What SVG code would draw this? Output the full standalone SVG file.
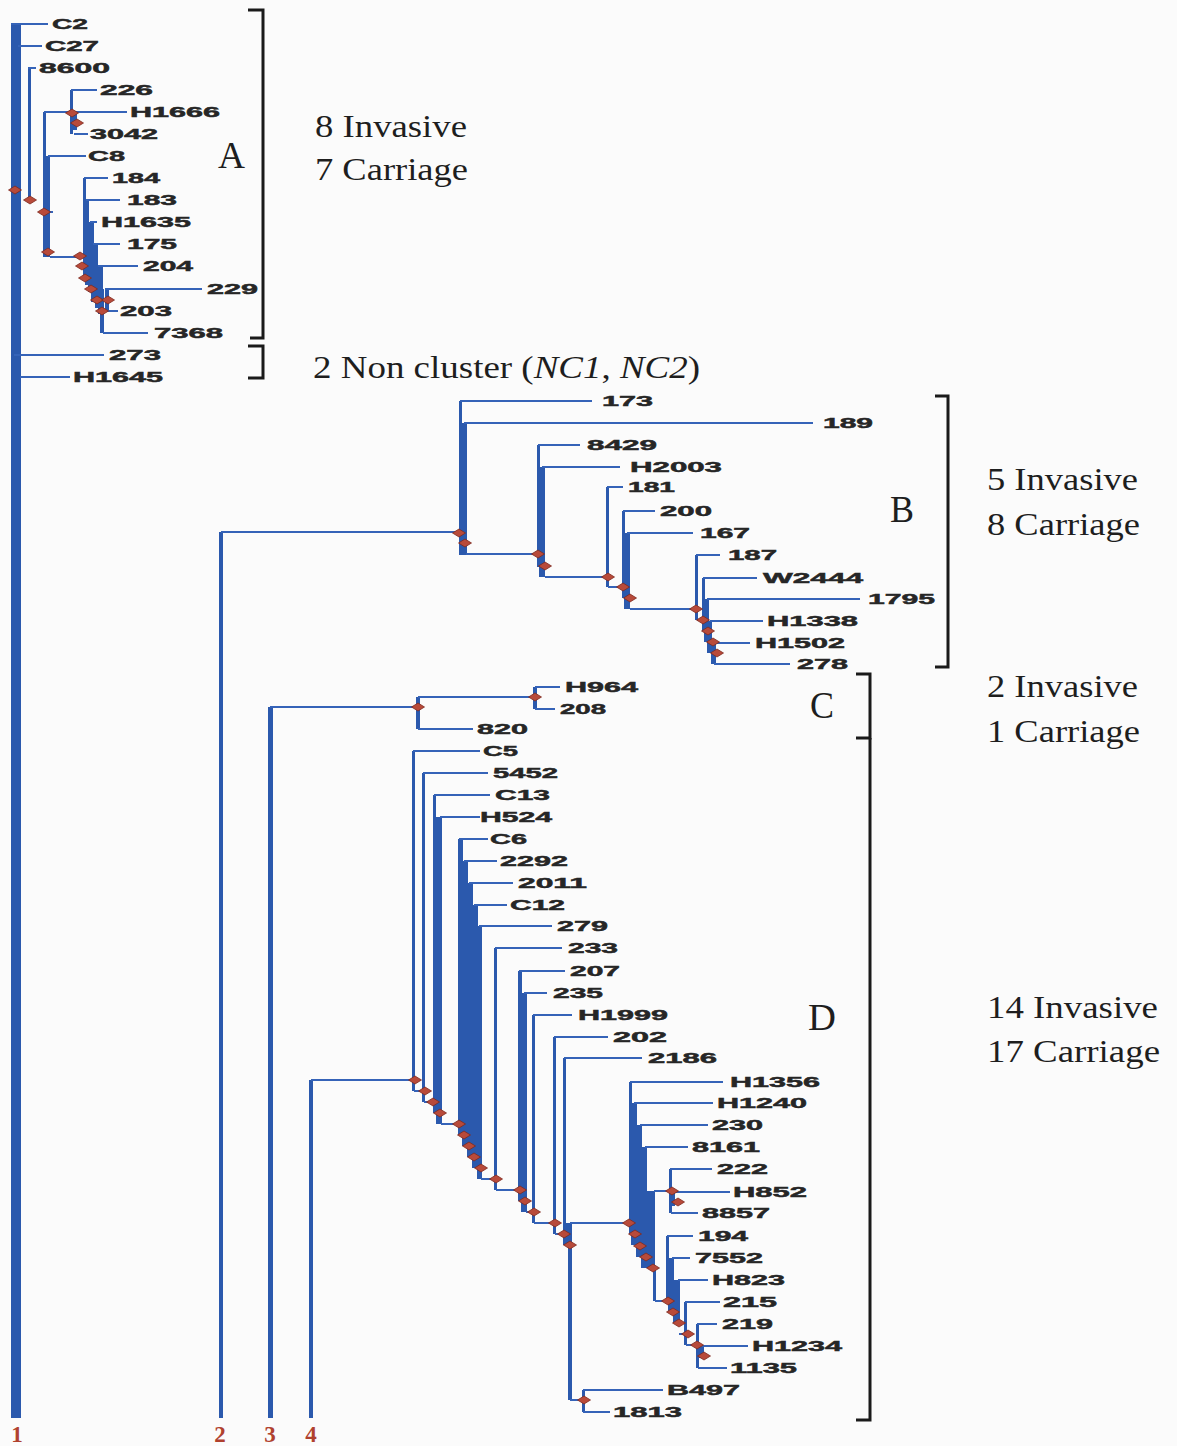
<svg xmlns="http://www.w3.org/2000/svg" xmlns:xlink="http://www.w3.org/1999/xlink" width="1177" height="1446" viewBox="0 0 1177 1446">
<style>
  .br{stroke:#3563b8;stroke-width:2;fill:none}
  .bar{fill:#2b59ad}
  .nd{fill:#b84a3a;stroke:#7d2a1e;stroke-width:0.8}
  .lb{font-family:"Liberation Sans",Arial,sans-serif;font-weight:bold;font-size:14px;fill:#262626;stroke:#262626;stroke-width:0.45}
  .bk{stroke:#1a1a1a;stroke-width:3;fill:none}
  .ct{font-family:"Liberation Serif","Times New Roman",serif;font-size:31px;fill:#1e1e1e}
  .cl{font-family:"Liberation Serif","Times New Roman",serif;font-size:37px;fill:#1e1e1e}
  .rn{font-family:"Liberation Serif","Times New Roman",serif;font-weight:bold;font-size:23px;fill:#b0412e;text-anchor:middle}
</style>
<defs>
  <path id="dm" d="M-6.5,0 L0,-4 L6.5,0 L0,4 Z"/>
</defs>
<rect width="1177" height="1446" fill="#fbfbfb"/>

<!-- branches: vertical bars and horizontal edges -->
<g id="connectors">
  <!-- tree 1 (cluster A and non-cluster) -->
  <rect class="bar" x="11" y="24" width="10" height="1394"/>
  <rect class="bar" x="28" y="68" width="3" height="134"/>
  <rect class="bar" x="43" y="112" width="3" height="145"/>
  <rect class="bar" x="45" y="156" width="5" height="101"/>
  <rect class="bar" x="70" y="90" width="3" height="44"/>
  <rect class="bar" x="73" y="112" width="4" height="18"/>
  <rect class="bar" x="83" y="178" width="3" height="100"/>
  <rect class="bar" x="85" y="200" width="4" height="85"/>
  <rect class="bar" x="88" y="222" width="6" height="70"/>
  <rect class="bar" x="91" y="244" width="7" height="58"/>
  <rect class="bar" x="95" y="266" width="8" height="42"/>
  <rect class="bar" x="98" y="289" width="6" height="25"/>
  <rect class="bar" x="100" y="305" width="4" height="28"/>
  <rect class="bar" x="105" y="289" width="4" height="22"/>
  <path class="br" d="M11,24H48 M18,46H42 M28,68H36 M44,112H127 M48,156H86 M71,90H97 M74,134H88 M50,257H84 M43,212H53
    M84,178H108 M86,200H120 M90,222H97 M93,244H120 M98,266H138 M105,289H202 M106,311H118 M103,333H148
    M14,355H104 M20,377H70"/>

  <!-- tree 2 (cluster B) -->
  <rect class="bar" x="219" y="532" width="4" height="886"/>
  <rect class="bar" x="459" y="401" width="3" height="154"/>
  <rect class="bar" x="461" y="423" width="6" height="132"/>
  <rect class="bar" x="537" y="445" width="3" height="122"/>
  <rect class="bar" x="539" y="467" width="6" height="110"/>
  <rect class="bar" x="606" y="487" width="3" height="100"/>
  <rect class="bar" x="622" y="511" width="3" height="87"/>
  <rect class="bar" x="624" y="533" width="6" height="76"/>
  <rect class="bar" x="695" y="555" width="3" height="65"/>
  <rect class="bar" x="702" y="578" width="3" height="53"/>
  <rect class="bar" x="704" y="599" width="5" height="43"/>
  <rect class="bar" x="707" y="621" width="5" height="32"/>
  <rect class="bar" x="711" y="643" width="5" height="21"/>
  <path class="br" d="M221,532H460 M460,401H592 M464,423H813 M466,554H538 M538,445H580 M542,467H620
    M545,577H607 M607,487H623 M608,587H622 M623,511H655 M627,533H693 M630,609H696 M696,555H720
    M697,620H703 M703,578H757 M707,599H860 M710,621H763 M712,643H750 M714,664H790"/>

  <!-- tree 3 (cluster C) -->
  <rect class="bar" x="268" y="707" width="5" height="711"/>
  <rect class="bar" x="416" y="697" width="4" height="32"/>
  <rect class="bar" x="533" y="687" width="4" height="22"/>
  <path class="br" d="M270,707H418 M418,697H535 M535,687H560 M535,709H555 M418,729H473"/>

  <!-- tree 4 (cluster D) -->
  <rect class="bar" x="309" y="1080" width="4" height="338"/>
  <rect class="bar" x="412" y="751" width="3" height="340"/>
  <rect class="bar" x="422" y="773" width="3" height="329"/>
  <rect class="bar" x="433" y="795" width="3" height="318"/>
  <rect class="bar" x="436" y="817" width="6" height="307"/>
  <rect class="bar" x="458" y="839" width="5" height="296"/>
  <rect class="bar" x="462" y="861" width="6" height="285"/>
  <rect class="bar" x="467" y="883" width="6" height="274"/>
  <rect class="bar" x="472" y="905" width="6" height="263"/>
  <rect class="bar" x="477" y="926" width="5" height="253"/>
  <rect class="bar" x="494" y="948" width="3" height="242"/>
  <rect class="bar" x="518" y="971" width="4" height="230"/>
  <rect class="bar" x="521" y="993" width="6" height="219"/>
  <rect class="bar" x="532" y="1015" width="3" height="208"/>
  <rect class="bar" x="553" y="1037" width="3" height="197"/>
  <rect class="bar" x="563" y="1058" width="3" height="187"/>
  <rect class="bar" x="565" y="1223" width="7" height="22"/>
  <rect class="bar" x="568" y="1245" width="4" height="155"/>
  <rect class="bar" x="582" y="1390" width="3" height="22"/>
  <rect class="bar" x="629" y="1082" width="3" height="152"/>
  <rect class="bar" x="631" y="1103" width="6" height="142"/>
  <rect class="bar" x="636" y="1125" width="6" height="132"/>
  <rect class="bar" x="641" y="1147" width="6" height="121"/>
  <rect class="bar" x="646" y="1191" width="9" height="77"/>
  <rect class="bar" x="653" y="1268" width="3" height="33"/>
  <rect class="bar" x="669" y="1169" width="3" height="44"/>
  <rect class="bar" x="671" y="1192" width="4" height="14"/>
  <rect class="bar" x="666" y="1236" width="3" height="65"/>
  <rect class="bar" x="668" y="1258" width="6" height="54"/>
  <rect class="bar" x="673" y="1280" width="7" height="43"/>
  <rect class="bar" x="684" y="1302" width="3" height="43"/>
  <rect class="bar" x="696" y="1324" width="3" height="44"/>
  <rect class="bar" x="698" y="1346" width="6" height="12"/>
  <path class="br" d="M311,1080H413 M413,751H480 M414,1091H423 M423,773H488 M424,1102H434 M434,795H490 M440,817H480
    M441,1124H458 M459,839H488 M464,861H497 M469,883H513 M474,905H507 M479,926H552 M481,1179H495 M495,948H562
    M496,1190H519 M519,971H565 M524,993H547 M526,1212H533 M533,1015H572 M534,1223H554 M554,1037H608
    M555,1234H564 M564,1058H642 M570,1223H630 M570,1400H583 M583,1390H663 M583,1412H610
    M630,1082H723 M634,1103H713 M640,1125H708 M645,1147H688 M654,1191H670 M670,1169H712 M673,1192H730 M671,1213H698
    M655,1301H667 M667,1236H693 M672,1258H690 M678,1280H708 M679,1334H686 M685,1302H720 M686,1345H697
    M697,1324H717 M700,1346H748 M698,1368H727"/>
</g>

<!-- internal nodes -->
<g id="internal-nodes">
  <use xlink:href="#dm" href="#dm" class="nd" x="15" y="190"/>
  <use xlink:href="#dm" href="#dm" class="nd" x="30" y="200"/>
  <use xlink:href="#dm" href="#dm" class="nd" x="44" y="212"/>
  <use xlink:href="#dm" href="#dm" class="nd" x="48" y="252"/>
  <use xlink:href="#dm" href="#dm" class="nd" x="72" y="113"/>
  <use xlink:href="#dm" href="#dm" class="nd" x="77" y="123"/>
  <use xlink:href="#dm" href="#dm" class="nd" x="80" y="256"/>
  <use xlink:href="#dm" href="#dm" class="nd" x="82" y="266"/>
  <use xlink:href="#dm" href="#dm" class="nd" x="85" y="278"/>
  <use xlink:href="#dm" href="#dm" class="nd" x="91" y="289"/>
  <use xlink:href="#dm" href="#dm" class="nd" x="97" y="300"/>
  <use xlink:href="#dm" href="#dm" class="nd" x="108" y="300"/>
  <use xlink:href="#dm" href="#dm" class="nd" x="102" y="311"/>

  <use xlink:href="#dm" href="#dm" class="nd" x="459" y="533"/>
  <use xlink:href="#dm" href="#dm" class="nd" x="465" y="543"/>
  <use xlink:href="#dm" href="#dm" class="nd" x="538" y="554"/>
  <use xlink:href="#dm" href="#dm" class="nd" x="545" y="566"/>
  <use xlink:href="#dm" href="#dm" class="nd" x="608" y="577"/>
  <use xlink:href="#dm" href="#dm" class="nd" x="623" y="587"/>
  <use xlink:href="#dm" href="#dm" class="nd" x="630" y="598"/>
  <use xlink:href="#dm" href="#dm" class="nd" x="696" y="609"/>
  <use xlink:href="#dm" href="#dm" class="nd" x="703" y="620"/>
  <use xlink:href="#dm" href="#dm" class="nd" x="708" y="631"/>
  <use xlink:href="#dm" href="#dm" class="nd" x="713" y="642"/>
  <use xlink:href="#dm" href="#dm" class="nd" x="717" y="653"/>

  <use xlink:href="#dm" href="#dm" class="nd" x="418" y="707"/>
  <use xlink:href="#dm" href="#dm" class="nd" x="535" y="697"/>

  <use xlink:href="#dm" href="#dm" class="nd" x="415" y="1080"/>
  <use xlink:href="#dm" href="#dm" class="nd" x="425" y="1091"/>
  <use xlink:href="#dm" href="#dm" class="nd" x="433" y="1102"/>
  <use xlink:href="#dm" href="#dm" class="nd" x="440" y="1113"/>
  <use xlink:href="#dm" href="#dm" class="nd" x="459" y="1124"/>
  <use xlink:href="#dm" href="#dm" class="nd" x="464" y="1135"/>
  <use xlink:href="#dm" href="#dm" class="nd" x="469" y="1146"/>
  <use xlink:href="#dm" href="#dm" class="nd" x="474" y="1157"/>
  <use xlink:href="#dm" href="#dm" class="nd" x="481" y="1168"/>
  <use xlink:href="#dm" href="#dm" class="nd" x="496" y="1179"/>
  <use xlink:href="#dm" href="#dm" class="nd" x="520" y="1190"/>
  <use xlink:href="#dm" href="#dm" class="nd" x="525" y="1201"/>
  <use xlink:href="#dm" href="#dm" class="nd" x="534" y="1212"/>
  <use xlink:href="#dm" href="#dm" class="nd" x="555" y="1223"/>
  <use xlink:href="#dm" href="#dm" class="nd" x="564" y="1234"/>
  <use xlink:href="#dm" href="#dm" class="nd" x="570" y="1245"/>
  <use xlink:href="#dm" href="#dm" class="nd" x="584" y="1400"/>
  <use xlink:href="#dm" href="#dm" class="nd" x="629" y="1223"/>
  <use xlink:href="#dm" href="#dm" class="nd" x="635" y="1234"/>
  <use xlink:href="#dm" href="#dm" class="nd" x="640" y="1246"/>
  <use xlink:href="#dm" href="#dm" class="nd" x="646" y="1257"/>
  <use xlink:href="#dm" href="#dm" class="nd" x="653" y="1268"/>
  <use xlink:href="#dm" href="#dm" class="nd" x="672" y="1191"/>
  <use xlink:href="#dm" href="#dm" class="nd" x="678" y="1202"/>
  <use xlink:href="#dm" href="#dm" class="nd" x="668" y="1301"/>
  <use xlink:href="#dm" href="#dm" class="nd" x="673" y="1312"/>
  <use xlink:href="#dm" href="#dm" class="nd" x="679" y="1323"/>
  <use xlink:href="#dm" href="#dm" class="nd" x="688" y="1334"/>
  <use xlink:href="#dm" href="#dm" class="nd" x="697" y="1345"/>
  <use xlink:href="#dm" href="#dm" class="nd" x="704" y="1356"/>
</g>

<!-- isolates (leaves) -->
<g id="leaves" class="lb">
  <g id="n-C2"><text x="52" y="29" textLength="36" lengthAdjust="spacingAndGlyphs">C2</text></g>
  <g id="n-C27"><text x="45" y="51" textLength="54" lengthAdjust="spacingAndGlyphs">C27</text></g>
  <g id="n-8600"><text x="39" y="73" textLength="71" lengthAdjust="spacingAndGlyphs">8600</text></g>
  <g id="n-226"><text x="100" y="95" textLength="53" lengthAdjust="spacingAndGlyphs">226</text></g>
  <g id="n-H1666"><text x="130" y="117" textLength="90" lengthAdjust="spacingAndGlyphs">H1666</text></g>
  <g id="n-3042"><text x="90" y="139" textLength="68" lengthAdjust="spacingAndGlyphs">3042</text></g>
  <g id="n-C8"><text x="88" y="161" textLength="37" lengthAdjust="spacingAndGlyphs">C8</text></g>
  <g id="n-184"><text x="112" y="183" textLength="48" lengthAdjust="spacingAndGlyphs">184</text></g>
  <g id="n-183"><text x="127" y="205" textLength="50" lengthAdjust="spacingAndGlyphs">183</text></g>
  <g id="n-H1635"><text x="101" y="227" textLength="90" lengthAdjust="spacingAndGlyphs">H1635</text></g>
  <g id="n-175"><text x="127" y="249" textLength="50" lengthAdjust="spacingAndGlyphs">175</text></g>
  <g id="n-204"><text x="143" y="271" textLength="50" lengthAdjust="spacingAndGlyphs">204</text></g>
  <g id="n-229"><text x="207" y="294" textLength="51" lengthAdjust="spacingAndGlyphs">229</text></g>
  <g id="n-203"><text x="120" y="316" textLength="52" lengthAdjust="spacingAndGlyphs">203</text></g>
  <g id="n-7368"><text x="154" y="338" textLength="69" lengthAdjust="spacingAndGlyphs">7368</text></g>
  <g id="n-273"><text x="109" y="360" textLength="52" lengthAdjust="spacingAndGlyphs">273</text></g>
  <g id="n-H1645"><text x="73" y="382" textLength="90" lengthAdjust="spacingAndGlyphs">H1645</text></g>

  <g id="n-173"><text x="602" y="406" textLength="51" lengthAdjust="spacingAndGlyphs">173</text></g>
  <g id="n-189"><text x="823" y="428" textLength="50" lengthAdjust="spacingAndGlyphs">189</text></g>
  <g id="n-8429"><text x="587" y="450" textLength="70" lengthAdjust="spacingAndGlyphs">8429</text></g>
  <g id="n-H2003"><text x="630" y="472" textLength="92" lengthAdjust="spacingAndGlyphs">H2003</text></g>
  <g id="n-181"><text x="628" y="492" textLength="47" lengthAdjust="spacingAndGlyphs">181</text></g>
  <g id="n-200"><text x="660" y="516" textLength="52" lengthAdjust="spacingAndGlyphs">200</text></g>
  <g id="n-167"><text x="700" y="538" textLength="50" lengthAdjust="spacingAndGlyphs">167</text></g>
  <g id="n-187"><text x="728" y="560" textLength="49" lengthAdjust="spacingAndGlyphs">187</text></g>
  <g id="n-W2444"><text x="763" y="583" textLength="100" lengthAdjust="spacingAndGlyphs">W2444</text></g>
  <g id="n-1795"><text x="868" y="604" textLength="67" lengthAdjust="spacingAndGlyphs">1795</text></g>
  <g id="n-H1338"><text x="767" y="626" textLength="91" lengthAdjust="spacingAndGlyphs">H1338</text></g>
  <g id="n-H1502"><text x="755" y="648" textLength="90" lengthAdjust="spacingAndGlyphs">H1502</text></g>
  <g id="n-278"><text x="797" y="669" textLength="51" lengthAdjust="spacingAndGlyphs">278</text></g>

  <g id="n-H964"><text x="565" y="692" textLength="73" lengthAdjust="spacingAndGlyphs">H964</text></g>
  <g id="n-208"><text x="560" y="714" textLength="46" lengthAdjust="spacingAndGlyphs">208</text></g>
  <g id="n-820"><text x="477" y="734" textLength="51" lengthAdjust="spacingAndGlyphs">820</text></g>

  <g id="n-C5"><text x="483" y="756" textLength="35" lengthAdjust="spacingAndGlyphs">C5</text></g>
  <g id="n-5452"><text x="493" y="778" textLength="65" lengthAdjust="spacingAndGlyphs">5452</text></g>
  <g id="n-C13"><text x="495" y="800" textLength="55" lengthAdjust="spacingAndGlyphs">C13</text></g>
  <g id="n-H524"><text x="480" y="822" textLength="72" lengthAdjust="spacingAndGlyphs">H524</text></g>
  <g id="n-C6"><text x="490" y="844" textLength="37" lengthAdjust="spacingAndGlyphs">C6</text></g>
  <g id="n-2292"><text x="500" y="866" textLength="68" lengthAdjust="spacingAndGlyphs">2292</text></g>
  <g id="n-2011"><text x="518" y="888" textLength="69" lengthAdjust="spacingAndGlyphs">2011</text></g>
  <g id="n-C12"><text x="510" y="910" textLength="55" lengthAdjust="spacingAndGlyphs">C12</text></g>
  <g id="n-279"><text x="557" y="931" textLength="51" lengthAdjust="spacingAndGlyphs">279</text></g>
  <g id="n-233"><text x="568" y="953" textLength="50" lengthAdjust="spacingAndGlyphs">233</text></g>
  <g id="n-207"><text x="570" y="976" textLength="50" lengthAdjust="spacingAndGlyphs">207</text></g>
  <g id="n-235"><text x="553" y="998" textLength="50" lengthAdjust="spacingAndGlyphs">235</text></g>
  <g id="n-H1999"><text x="578" y="1020" textLength="90" lengthAdjust="spacingAndGlyphs">H1999</text></g>
  <g id="n-202"><text x="613" y="1042" textLength="54" lengthAdjust="spacingAndGlyphs">202</text></g>
  <g id="n-2186"><text x="648" y="1063" textLength="69" lengthAdjust="spacingAndGlyphs">2186</text></g>
  <g id="n-H1356"><text x="730" y="1087" textLength="90" lengthAdjust="spacingAndGlyphs">H1356</text></g>
  <g id="n-H1240"><text x="717" y="1108" textLength="90" lengthAdjust="spacingAndGlyphs">H1240</text></g>
  <g id="n-230"><text x="712" y="1130" textLength="51" lengthAdjust="spacingAndGlyphs">230</text></g>
  <g id="n-8161"><text x="692" y="1152" textLength="68" lengthAdjust="spacingAndGlyphs">8161</text></g>
  <g id="n-222"><text x="717" y="1174" textLength="51" lengthAdjust="spacingAndGlyphs">222</text></g>
  <g id="n-H852"><text x="733" y="1197" textLength="74" lengthAdjust="spacingAndGlyphs">H852</text></g>
  <g id="n-8857"><text x="702" y="1218" textLength="68" lengthAdjust="spacingAndGlyphs">8857</text></g>
  <g id="n-194"><text x="698" y="1241" textLength="50" lengthAdjust="spacingAndGlyphs">194</text></g>
  <g id="n-7552"><text x="695" y="1263" textLength="68" lengthAdjust="spacingAndGlyphs">7552</text></g>
  <g id="n-H823"><text x="712" y="1285" textLength="73" lengthAdjust="spacingAndGlyphs">H823</text></g>
  <g id="n-215"><text x="723" y="1307" textLength="54" lengthAdjust="spacingAndGlyphs">215</text></g>
  <g id="n-219"><text x="722" y="1329" textLength="51" lengthAdjust="spacingAndGlyphs">219</text></g>
  <g id="n-H1234"><text x="752" y="1351" textLength="90" lengthAdjust="spacingAndGlyphs">H1234</text></g>
  <g id="n-1135"><text x="730" y="1373" textLength="67" lengthAdjust="spacingAndGlyphs">1135</text></g>
  <g id="n-B497"><text x="667" y="1395" textLength="73" lengthAdjust="spacingAndGlyphs">B497</text></g>
  <g id="n-1813"><text x="613" y="1417" textLength="69" lengthAdjust="spacingAndGlyphs">1813</text></g>
</g>

<!-- cluster brackets and counts -->
<g id="cluster-A">
  <path class="bk" d="M248,10H263V338H250"/>
  <text class="cl" x="218" y="168" textLength="27" lengthAdjust="spacingAndGlyphs">A</text>
  <text class="ct" x="315" y="137" textLength="152" lengthAdjust="spacingAndGlyphs">8 Invasive</text>
  <text class="ct" x="315" y="180" textLength="153" lengthAdjust="spacingAndGlyphs">7 Carriage</text>
</g>
<g id="non-cluster">
  <path class="bk" d="M248,346H263V378H248"/>
  <text class="ct" x="313" y="378" textLength="387" lengthAdjust="spacingAndGlyphs">2 Non cluster (<tspan font-style="italic">NC1</tspan>, <tspan font-style="italic">NC2</tspan>)</text>
</g>
<g id="cluster-B">
  <path class="bk" d="M935,396H948V667H935"/>
  <text class="cl" x="890" y="522" textLength="24" lengthAdjust="spacingAndGlyphs">B</text>
  <text class="ct" x="987" y="490" textLength="151" lengthAdjust="spacingAndGlyphs">5 Invasive</text>
  <text class="ct" x="987" y="535" textLength="153" lengthAdjust="spacingAndGlyphs">8 Carriage</text>
</g>
<g id="cluster-C">
  <path class="bk" d="M856,674H870V738H856"/>
  <text class="cl" x="810" y="718" textLength="24" lengthAdjust="spacingAndGlyphs">C</text>
  <text class="ct" x="987" y="697" textLength="151" lengthAdjust="spacingAndGlyphs">2 Invasive</text>
  <text class="ct" x="987" y="742" textLength="153" lengthAdjust="spacingAndGlyphs">1 Carriage</text>
</g>
<g id="cluster-D">
  <path class="bk" d="M870,738V1420H856"/>
  <text class="cl" x="808" y="1030" textLength="28" lengthAdjust="spacingAndGlyphs">D</text>
  <text class="ct" x="987" y="1018" textLength="171" lengthAdjust="spacingAndGlyphs">14 Invasive</text>
  <text class="ct" x="987" y="1062" textLength="173" lengthAdjust="spacingAndGlyphs">17 Carriage</text>
</g>

<!-- root numbers -->
<g id="roots">
  <text class="rn" x="17" y="1442">1</text>
  <text class="rn" x="220" y="1442">2</text>
  <text class="rn" x="270" y="1442">3</text>
  <text class="rn" x="311" y="1442">4</text>
</g>
</svg>
